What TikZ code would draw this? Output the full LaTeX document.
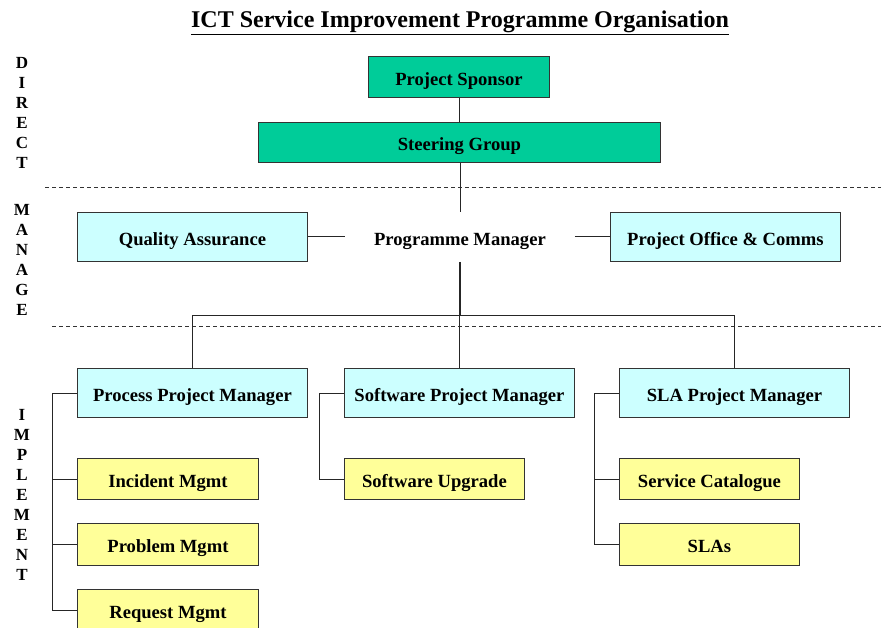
\documentclass[tikz,border=0pt]{standalone}
\usepackage{fontspec}
\setmainfont{Liberation Serif}
\definecolor{sponsorgreen}{HTML}{00CC99}
\definecolor{managecyan}{HTML}{CCFFFF}
\definecolor{workyellow}{HTML}{FFFF99}
\tikzset{
  box/.style={draw=black!80, line width=0.9pt, anchor=north west, inner sep=0pt,
    font=\fontsize{18.6}{20}\selectfont\bfseries, align=center,
    text height=17pt, text depth=0pt},
  directbox/.style={box, fill=sponsorgreen},
  managebox/.style={box, fill=managecyan},
  workbox/.style={box, fill=workyellow},
  link/.style={draw=black!85, line width=0.9pt},
  tier/.style={draw=black!80, line width=0.8pt, dash pattern=on 4pt off 3pt},
  sidelabel/.style={font=\fontsize{17}{20}\selectfont\bfseries, align=center, inner sep=0pt}
}
\begin{document}
\begin{tikzpicture}[x=1pt, y=-1pt]
\clip (0,0) rectangle (881,628);
\fill[white] (0,0) rectangle (881,628);

% heading
\node[font=\fontsize{24}{26}\selectfont\bfseries, inner sep=0pt] (title) at (460,23)
  {\underline{ICT Service Improvement Programme Organisation}};

% tier separators
\draw[tier] (45,187) -- (881,187);
\draw[tier] (52,326) -- (881,326);

% tier names
\node[sidelabel] (direct) at (22,113) {D\\I\\R\\E\\C\\T};
\node[sidelabel] (manage) at (22,260) {M\\A\\N\\A\\G\\E};
\node[sidelabel] (implement) at (22,495) {I\\M\\P\\L\\E\\M\\E\\N\\T};

% direct
\node[directbox, minimum width=181pt, minimum height=41pt] (sponsor) at (368,56) {Project Sponsor};
\node[directbox, minimum width=402pt, minimum height=40pt] (steer) at (258,122) {Steering Group};

% manage
\node[managebox, minimum width=230pt, minimum height=49pt] (qa) at (77,212) {Quality Assurance};
\node[box, draw=none, minimum width=229pt, minimum height=49pt] (pm) at (345,212) {Programme Manager};
\node[managebox, minimum width=230pt, minimum height=49pt] (poc) at (610,212) {Project Office \& Comms};

% implement: project managers
\node[managebox, minimum width=230pt, minimum height=49pt] (ppm) at (77,368) {Process Project Manager};
\node[managebox, minimum width=230pt, minimum height=49pt] (spm) at (344,368) {Software Project Manager};
\node[managebox, minimum width=230pt, minimum height=49pt] (slapm) at (619,368) {SLA Project Manager};

% implement: workstreams
\node[workbox, minimum width=181pt, minimum height=41pt] (inc) at (77,458) {Incident Mgmt};
\node[workbox, minimum width=181pt, minimum height=42pt] (prob) at (77,523) {Problem Mgmt};
\node[workbox, minimum width=181pt, minimum height=42pt] (req) at (77,589) {Request Mgmt};
\node[workbox, minimum width=180pt, minimum height=41pt] (swu) at (344,458) {Software Upgrade};
\node[workbox, minimum width=180pt, minimum height=41pt] (svc) at (619,458) {Service Catalogue};
\node[workbox, minimum width=180pt, minimum height=42pt] (slas) at (619,523) {SLAs};

% reporting lines
\draw[link] (sponsor.south) -- (sponsor.south |- steer.north);
\draw[link] (steer.south -| pm.north) -- (pm.north);
\draw[link] (qa.east) -- (pm.west);
\draw[link] (pm.east) -- (poc.west);
\coordinate (bus) at (pm.south |- 0,315);
\draw[link, line width=1.6pt] (pm.south) -- (bus);
\draw[link] (ppm.north) -- (ppm.north |- bus) -- (slapm.north |- bus) -- (slapm.north);
\draw[link] (bus) -- (bus -| spm.north) -- (spm.north);

% workstream rails
\draw[link] (ppm.west) -| ([xshift=-25pt]req.west) -- (req.west);
\draw[link] ([xshift=-25pt]inc.west) -- (inc.west);
\draw[link] ([xshift=-25pt]prob.west) -- (prob.west);
\draw[link] (spm.west) -| ([xshift=-25pt]swu.west) -- (swu.west);
\draw[link] (slapm.west) -| ([xshift=-25pt]slas.west) -- (slas.west);
\draw[link] ([xshift=-25pt]svc.west) -- (svc.west);
\end{tikzpicture}
\end{document}
